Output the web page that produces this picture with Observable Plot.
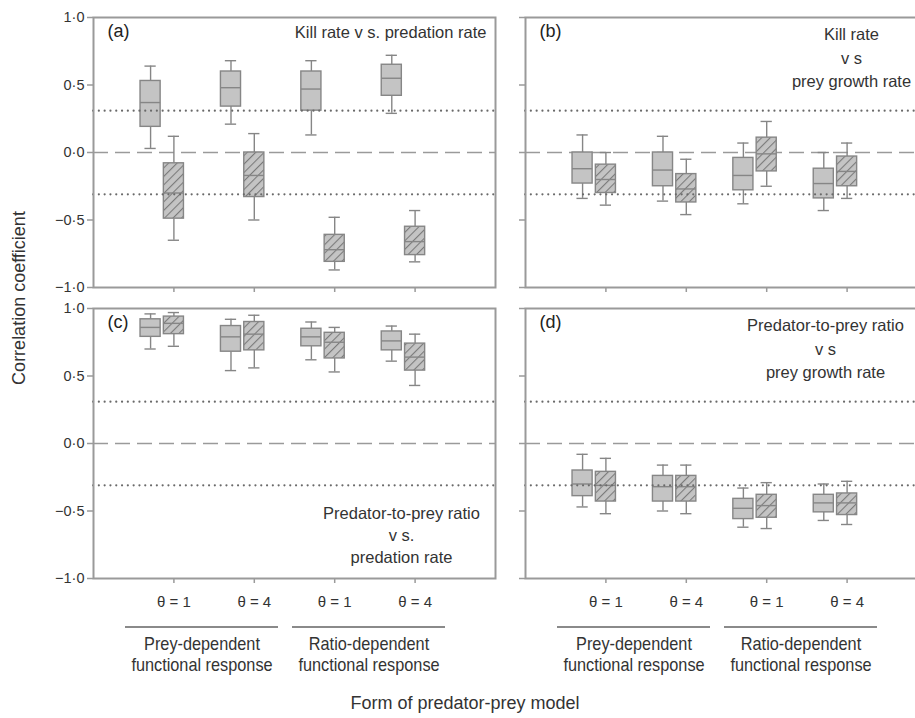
<!DOCTYPE html>
<html>
<head>
<meta charset="utf-8">
<script src="https://cdn.jsdelivr.net/npm/d3@7"></script>
<script src="https://cdn.jsdelivr.net/npm/@observablehq/plot@0.6"></script>
<style>
  html, body { margin: 0; padding: 0; background: #fff; }
  #fig { position: relative; width: 915px; height: 718px; overflow: hidden; font-family: "Liberation Sans", Arial, sans-serif; color: #333; }
  #fig .p { position: absolute; }
  .lab { position: absolute; white-space: nowrap; }
</style>
</head>
<body>
<div id="fig"></div>
<script>
// ---------- data ----------
const thetaLabels = ["θ = 1", "θ = 4", "θ = 1", "θ = 4"];
const responseForms = ["Prey-dependent\nfunctional response", "Ratio-dependent\nfunctional response"];
const yTicks = [1, 0.5, 0, -0.5, -1];
const zeroLine = 0;
const significance = [0.31, -0.31];

// each entry: [lower whisker, Q1, median, Q3, upper whisker]
const aSolid  = [[0.03, 0.19, 0.37, 0.53, 0.64], [0.21, 0.34, 0.48, 0.60, 0.68], [0.13, 0.31, 0.47, 0.60, 0.68], [0.29, 0.42, 0.55, 0.65, 0.72]];
const aHatch  = [[-0.65, -0.49, -0.30, -0.08, 0.12], [-0.50, -0.33, -0.17, 0.00, 0.14], [-0.87, -0.81, -0.72, -0.61, -0.48], [-0.81, -0.76, -0.66, -0.55, -0.43]];
const bSolid  = [[-0.34, -0.23, -0.12, 0.00, 0.13], [-0.36, -0.25, -0.13, 0.00, 0.12], [-0.38, -0.28, -0.17, -0.04, 0.07], [-0.43, -0.34, -0.23, -0.12, 0.00]];
const bHatch  = [[-0.39, -0.30, -0.20, -0.09, 0.00], [-0.46, -0.37, -0.27, -0.16, -0.05], [-0.25, -0.14, -0.01, 0.11, 0.23], [-0.34, -0.25, -0.14, -0.03, 0.07]];
const cSolid  = [[0.70, 0.79, 0.86, 0.92, 0.96], [0.54, 0.68, 0.79, 0.87, 0.92], [0.62, 0.72, 0.79, 0.85, 0.90], [0.61, 0.69, 0.76, 0.83, 0.87]];
const cHatch  = [[0.72, 0.81, 0.89, 0.94, 0.97], [0.56, 0.69, 0.81, 0.90, 0.95], [0.53, 0.63, 0.75, 0.82, 0.86], [0.43, 0.54, 0.64, 0.74, 0.81]];
const dSolid  = [[-0.47, -0.39, -0.30, -0.20, -0.08], [-0.50, -0.43, -0.32, -0.24, -0.16], [-0.62, -0.56, -0.48, -0.41, -0.33], [-0.57, -0.51, -0.44, -0.38, -0.30]];
const dHatch  = [[-0.52, -0.43, -0.31, -0.21, -0.11], [-0.52, -0.43, -0.32, -0.24, -0.16], [-0.63, -0.55, -0.46, -0.38, -0.29], [-0.60, -0.53, -0.44, -0.37, -0.28]];

const panels = [
  {id: "a", letter: "(a)", title: "Kill rate v s. predation rate", anchor: "top-right", solid: aSolid, hatch: aHatch, left: 0, top: 0, yLabels: true, xLabels: false},
  {id: "b", letter: "(b)", title: "Kill rate\nv s\nprey growth rate", anchor: "b", solid: bSolid, hatch: bHatch, left: 432, top: 0, yLabels: false, xLabels: false},
  {id: "c", letter: "(c)", title: "Predator-to-prey ratio\nv s.\npredation rate", anchor: "c", solid: cSolid, hatch: cHatch, left: 0, top: 291, yLabels: true, xLabels: true},
  {id: "d", letter: "(d)", title: "Predator-to-prey ratio\nv s\nprey growth rate", anchor: "d", solid: dSolid, hatch: dHatch, left: 432, top: 291, yLabels: false, xLabels: true}
];

// ---------- style ----------
const FONT = "Liberation Sans, Arial, sans-serif";
const BOXW = 0.25, CAPW = 0.14, SOLID_OFF = -0.29;
const lineCol = "#868686", boxFill = "#c4c4c4", frameCol = "#9a9a9a";
const TS = 16.5;

const fig = document.getElementById("fig");

function toRows(arr, off, series) {
  return arr.map((v, i) => ({g: i + 1, x: i + 1 + off, lo: v[0], q1: v[1], med: v[2], q3: v[3], hi: v[4], series}));
}

function boxMarks(rows, fill) {
  return [
    Plot.ruleX(rows, {x: "x", y1: "lo", y2: "q1", stroke: lineCol, strokeWidth: 1.4}),
    Plot.ruleX(rows, {x: "x", y1: "q3", y2: "hi", stroke: lineCol, strokeWidth: 1.4}),
    Plot.ruleY(rows, {y: "lo", x1: d => d.x - CAPW / 2, x2: d => d.x + CAPW / 2, stroke: lineCol, strokeWidth: 1.4}),
    Plot.ruleY(rows, {y: "hi", x1: d => d.x - CAPW / 2, x2: d => d.x + CAPW / 2, stroke: lineCol, strokeWidth: 1.4}),
    Plot.rect(rows, {x1: d => d.x - BOXW / 2, x2: d => d.x + BOXW / 2, y1: "q1", y2: "q3", fill, stroke: lineCol, strokeWidth: 1.4}),
    Plot.ruleY(rows, {y: "med", x1: d => d.x - BOXW / 2, x2: d => d.x + BOXW / 2, stroke: lineCol, strokeWidth: 1.4})
  ];
}

panels.forEach((p, idx) => {
  const solidRows = toRows(p.solid, SOLID_OFF, "solid");
  const hatchRows = toRows(p.hatch, 0, "hatch");
  const mb = p.xLabels ? 40 : 13;
  const common = {fontSize: TS, fill: "#333", lineAnchor: "top"};
  const titleMark = p.anchor === "top-right"
    ? Plot.text([p.title], {...common, frameAnchor: "top-right", dx: -9, dy: 9, textAnchor: "end"})
    : p.anchor === "b"
      ? Plot.text([p.title], {...common, frameAnchor: "top-left", dx: 326, dy: 6, textAnchor: "middle", lineHeight: 1.42})
      : p.anchor === "c"
        ? Plot.text([p.title], {...common, frameAnchor: "top-left", dx: 308, dy: 195, textAnchor: "middle", lineHeight: 1.33})
        : Plot.text([p.title], {...common, frameAnchor: "top-left", dx: 300, dy: 6, textAnchor: "middle", lineHeight: 1.42});

  const chart = Plot.plot({
    width: 93 + 402 + 10,
    height: 17 + 270 + mb,
    marginLeft: 93, marginRight: 10, marginTop: 17, marginBottom: mb,
    style: {fontFamily: FONT, fontSize: "14px", color: "#333", background: "transparent", overflow: "visible"},
    x: {domain: [0, 5], axis: null},
    y: {domain: [-1, 1], axis: null},
    marks: [
      Plot.ruleY([zeroLine], {stroke: "#9a9a9a", strokeWidth: 1.6, strokeDasharray: "15 7"}),
      ...boxMarks(solidRows, boxFill),
      ...boxMarks(hatchRows, "url(#hatch-" + p.id + ")"),
      Plot.ruleY(significance, {stroke: "#6a6a6a", strokeWidth: 2.1, strokeDasharray: "0.1 5.7", strokeLinecap: "round"}),
      Plot.axisY(yTicks, {anchor: "left", tickSize: 6, tickPadding: 3, stroke: frameCol, strokeWidth: 1.5, fontSize: 14.5, fill: "#333",
        tickFormat: p.yLabels ? (d => (d < 0 ? "\u2212" : "") + Math.abs(d).toFixed(1).replace(".", "\u00b7")) : (() => ""), label: null}),
      Plot.axisX([1, 2, 3, 4], {anchor: "bottom", tickSize: 5, tickPadding: 13, stroke: frameCol, strokeWidth: 1.5, fontSize: 15, fill: "#333",
        tickFormat: p.xLabels ? (d => thetaLabels[d - 1]) : (() => ""), label: null}),
      Plot.frame({stroke: frameCol, strokeWidth: 2}),
      Plot.text([p.letter], {frameAnchor: "top-left", dx: 14, dy: 7, fontSize: 18, fill: "#222", textAnchor: "start", lineAnchor: "top"}),
      titleMark
    ]
  });

  // hatch pattern defs
  const svg = chart.tagName.toLowerCase() === "svg" ? chart : chart.querySelector("svg");
  const ns = "http://www.w3.org/2000/svg";
  const defs = document.createElementNS(ns, "defs");
  const pat = document.createElementNS(ns, "pattern");
  pat.setAttribute("id", "hatch-" + p.id);
  pat.setAttribute("patternUnits", "userSpaceOnUse");
  pat.setAttribute("width", "6");
  pat.setAttribute("height", "6");
  pat.setAttribute("patternTransform", "rotate(45)");
  const bg = document.createElementNS(ns, "rect");
  bg.setAttribute("width", "6"); bg.setAttribute("height", "6"); bg.setAttribute("fill", boxFill);
  const ln = document.createElementNS(ns, "line");
  ln.setAttribute("x1", "0"); ln.setAttribute("y1", "0"); ln.setAttribute("x2", "0"); ln.setAttribute("y2", "6");
  ln.setAttribute("stroke", "#7a7a7a"); ln.setAttribute("stroke-width", "2.2");
  pat.appendChild(bg); pat.appendChild(ln); defs.appendChild(pat);
  svg.insertBefore(defs, svg.firstChild);

  chart.classList.add("p");
  chart.style.left = p.left + "px";
  chart.style.top = p.top + "px";
  fig.appendChild(chart);

  // response-form brackets below panels c and d
  if (p.xLabels) {
    const xs = chart.scale("x");
    const spans = [[0.4, 2.3], [2.48, 4.38]];
    responseForms.forEach((txt, k) => {
      const x1 = p.left + xs.apply(spans[k][0]), x2 = p.left + xs.apply(spans[k][1]);
      const line = document.createElement("div");
      line.className = "lab";
      Object.assign(line.style, {left: x1 + "px", top: "626px", width: (x2 - x1) + "px", height: "0", borderTop: "2px solid #8a8a8a"});
      fig.appendChild(line);
      const t = document.createElement("div");
      t.className = "lab";
      t.innerHTML = txt.split("\n").join("<br>");
      Object.assign(t.style, {left: ((x1 + x2) / 2) + "px", top: "633px", transform: "translateX(-50%) scaleX(0.88)", textAlign: "center", fontSize: "18.5px", lineHeight: "21px", color: "#333"});
      fig.appendChild(t);
    });
  }
});

// axis titles
const yl = document.createElement("div");
yl.className = "lab";
yl.textContent = "Correlation coefficient";
Object.assign(yl.style, {left: "19px", top: "298px", transform: "translate(-50%, -50%) rotate(-90deg)", fontSize: "18px", color: "#333"});
fig.appendChild(yl);

const xl = document.createElement("div");
xl.className = "lab";
xl.textContent = "Form of predator-prey model";
Object.assign(xl.style, {left: "465px", top: "693px", transform: "translateX(-50%)", fontSize: "18px", color: "#333"});
fig.appendChild(xl);
</script>
</body>
</html>
